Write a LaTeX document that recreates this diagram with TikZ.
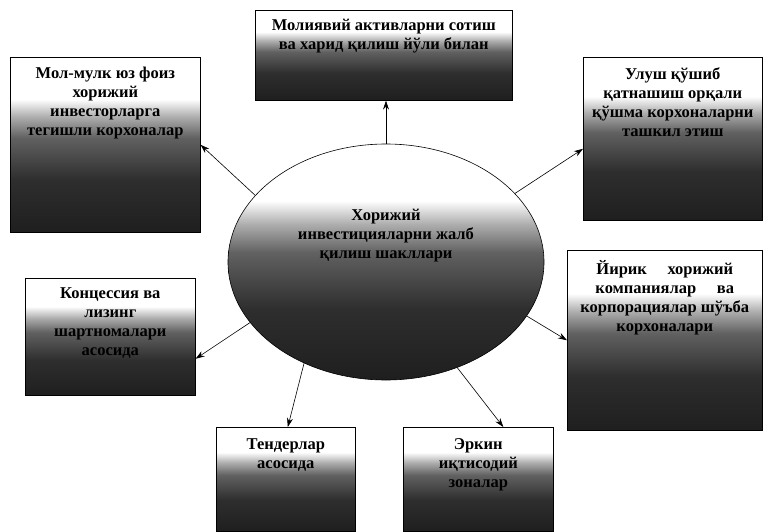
\documentclass[tikz,border=0pt]{standalone}
\usepackage{fontspec}
\setmainfont{Liberation Serif}
\usetikzlibrary{positioning, shapes.geometric, arrows.meta}

\pgfdeclareverticalshading{scan_fade}{100bp}{color(0bp)=(black!88); color(25bp)=(black!88); color(40bp)=(black!82); color(52bp)=(black!62); color(58bp)=(black!32); color(63bp)=(white); color(100bp)=(white)}

\begin{document}
\begin{tikzpicture}[
x=1pt, y=-1pt,
font=\fontsize{16.5}{19}\selectfont\bfseries,
fade_box/.style={rectangle, draw=black, semithick, shading=scan_fade, anchor=north west, inner sep=0pt},
fade_oval/.style={ellipse, draw=black, semithick, shading=scan_fade, minimum width=316pt, minimum height=236pt, inner sep=0pt},
box_text/.style={anchor=north, align=center, inner sep=2pt},
out_arrow/.style={-{Stealth[length=9pt, width=6pt]}, semithick}
]

\useasboundingbox (0,0) rectangle (768,532);

% \node[fade_box, minimum width=w, minimum height=h](name) at (left,top) {};
% \node[box_text] at ([yshift=-gap]name.north) {text};

\node[fade_oval](forms_oval) at (386,262) {};
\node[align=center] at (386,236) {Хорижий\\инвестицияларни жалб\\қилиш шакллари};

\node[fade_box, minimum width=257pt, minimum height=90pt](assets_box) at (255,10) {};
\node[box_text] at ([yshift=-7pt]assets_box.north) {Молиявий активларни сотиш\\ва харид қилиш йўли билан};

\node[fade_box, minimum width=190pt, minimum height=175pt](property_box) at (10,57) {};
\node[box_text] at ([yshift=-8pt]property_box.north) {Мол-мулк юз фоиз\\хорижий\\инвесторларга\\тегишли корхоналар};

\node[fade_box, minimum width=179pt, minimum height=163pt](share_box) at (583,57) {};
\node[box_text] at ([yshift=-8pt]share_box.north) {Улуш қўшиб\\қатнашиш орқали\\қўшма корхоналарни\\ташкил этиш};

\node[fade_box, minimum width=170pt, minimum height=117pt](lease_box) at (25,278) {};
\node[box_text] at ([yshift=-7pt]lease_box.north) {Концессия ва\\лизинг\\шартномалари\\асосида};

\node[fade_box, minimum width=195pt, minimum height=180pt](branch_box) at (567,250) {};
\node[box_text] at ([yshift=-8pt]branch_box.north) {Йирик \quad хорижий\\компаниялар \quad ва\\корпорациялар шўъба\\корхоналари};

\node[fade_box, minimum width=139pt, minimum height=104pt](tender_box) at (216,427) {};
\node[box_text] at ([yshift=-9pt]tender_box.north) {Тендерлар\\асосида};

\node[fade_box, minimum width=150pt, minimum height=104pt](zone_box) at (403,427) {};
\node[box_text] at ([yshift=-9pt]zone_box.north) {Эркин\\иқтисодий\\зоналар};

% \draw[out_arrow](forms_oval.angle) -- (name.side);

\draw[out_arrow](forms_oval.north) -- (forms_oval.north |- assets_box.south);
\draw[out_arrow](forms_oval.153) -- (property_box.east);
\draw[out_arrow](forms_oval.28) -- ([yshift=-10pt]share_box.west);
\draw[out_arrow](forms_oval.204) -- ([yshift=-22pt]lease_box.east);
\draw[out_arrow](forms_oval.339) -- (branch_box.west);
\draw[out_arrow](forms_oval.231) -- ([xshift=2pt]tender_box.north);
\draw[out_arrow](forms_oval.304) -- ([xshift=25pt]zone_box.north);

\end{tikzpicture}
\end{document}
